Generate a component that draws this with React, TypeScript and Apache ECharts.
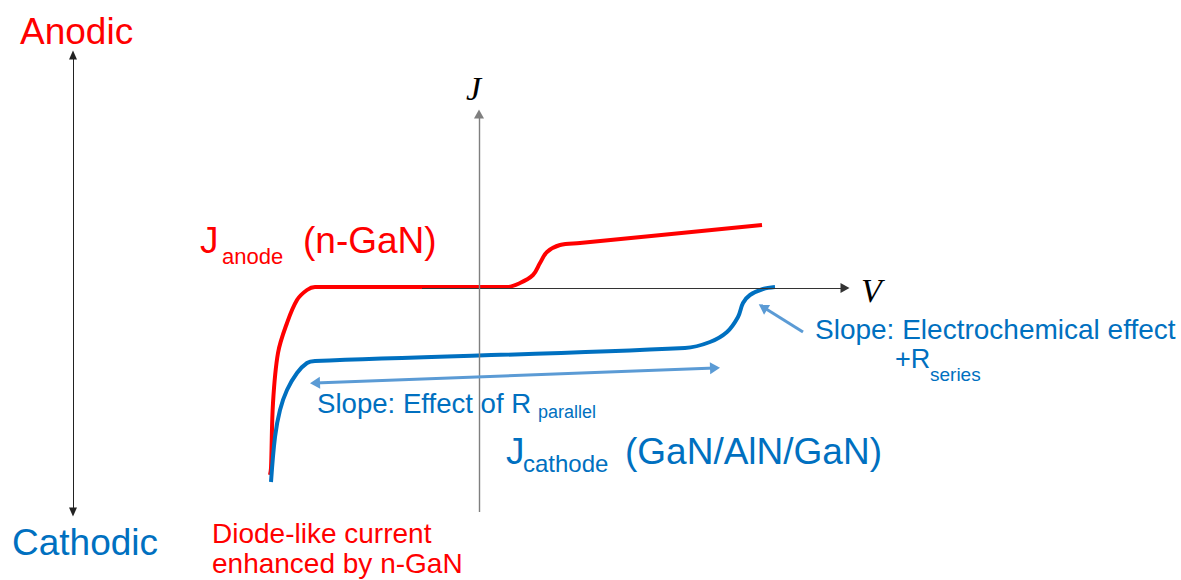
import React, { useEffect, useRef } from "react";
import * as echarts from "echarts";

// Schematic J–V curves (arbitrary units: V along x, J along y)
const anodeCurve: [number, number][] = [
  [-2.09, -1.87],
  [-2.08, -1.8],
  [-2.06, -1.15],
  [-2.01, -0.65],
  [-1.92, -0.35],
  [-1.82, -0.12],
  [-1.72, -0.02],
  [-1.64, 0.01],
  [0.28, 0.01],
  [0.41, 0.05],
  [0.54, 0.13],
  [0.61, 0.25],
  [0.68, 0.36],
  [0.81, 0.43],
  [1.01, 0.45],
  [2.83, 0.63],
];

const cathodeCurve: [number, number][] = [
  [-2.08, -1.94],
  [-2.04, -1.49],
  [-1.99, -1.22],
  [-1.92, -1.02],
  [-1.82, -0.85],
  [-1.72, -0.75],
  [-1.64, -0.73],
  [2.06, -0.6],
  [2.31, -0.54],
  [2.48, -0.44],
  [2.59, -0.29],
  [2.64, -0.15],
  [2.71, -0.07],
  [2.84, -0.01],
  [2.96, 0.01],
];

// Axis arrows and annotation arrows: [start, end] in the same V/J units
const vAxisLine: [number, number][] = [[-0.57, 0], [3.66, 0]];
const jAxisLine: [number, number][] = [[0, -2.24], [0, 1.74]];
const polarityLine: [number, number][] = [[-4.06, -2.24], [-4.06, 2.33]];
const parallelSlopeArrow: [number, number][] = [[-1.64, -0.95], [2.36, -0.8]];
const seriesSlopeArrow: [number, number][] = [[3.24, -0.44], [2.84, -0.19]];

const RED = "#ff0000";
const BLUE = "#0070c0";
const LIGHT_BLUE = "#5b9bd5";
const SANS = "'Liberation Sans', Arial, sans-serif";
const SERIF = "'Liberation Serif', 'Times New Roman', serif";

function arrowPair(
  pts: [number, number][],
  color: string,
  width: number,
  startSymbol: string,
  endSymbol: string,
  size: number[]
) {
  return [
    {
      coord: pts[0],
      symbol: startSymbol,
      symbolSize: size,
      lineStyle: { color, width, type: "solid" },
    },
    { coord: pts[1], symbol: endSymbol, symbolSize: size },
  ];
}

function txt(
  text: string,
  x: number,
  y: number,
  size: number,
  color: string,
  family = SANS,
  fontStyle = "normal"
) {
  return {
    type: "text",
    x,
    y,
    silent: true,
    style: {
      text,
      fill: color,
      font: `${fontStyle} ${size}px ${family}`,
      lineHeight: Math.round(size * 0.85),
      align: "left",
      verticalAlign: "middle",
    },
  };
}

export default function App() {
  const ref = useRef<HTMLDivElement>(null);

  useEffect(() => {
    if (!ref.current) return;
    const chart = echarts.init(ref.current, undefined, { renderer: "svg" });

    const option = {
      animation: false,
      backgroundColor: "#ffffff",
      grid: { left: 0, right: 0, top: 0, bottom: 0 },
      xAxis: { type: "value", min: -4.79, max: 7.02, show: false },
      yAxis: { type: "value", min: -2.92, max: 2.88, show: false },
      series: [
        {
          name: "axes",
          type: "line",
          data: [],
          z: 1,
          silent: true,
          markLine: {
            silent: true,
            animation: false,
            label: { show: false },
            emphasis: { disabled: true },
            data: [
              arrowPair(vAxisLine, "#333333", 1.2, "none", "triangle", [10, 9]),
              arrowPair(jAxisLine, "#7f7f7f", 1.4, "none", "triangle", [10, 9]),
              arrowPair(polarityLine, "#222222", 1, "triangle", "triangle", [8, 9]),
              arrowPair(parallelSlopeArrow, LIGHT_BLUE, 3, "triangle", "triangle", [12, 10]),
              arrowPair(seriesSlopeArrow, LIGHT_BLUE, 3, "none", "triangle", [12, 10]),
            ],
          },
        },
        {
          name: "J anode",
          type: "line",
          data: anodeCurve,
          showSymbol: false,
          smooth: 0.35,
          clip: false,
          z: 3,
          silent: true,
          lineStyle: { color: RED, width: 4 },
        },
        {
          name: "J cathode",
          type: "line",
          data: cathodeCurve,
          showSymbol: false,
          smooth: 0.35,
          clip: false,
          z: 4,
          silent: true,
          lineStyle: { color: BLUE, width: 4 },
        },
      ],
      graphic: [
        txt("Anodic", 20, 31, 37, RED),
        txt("Cathodic", 12, 542, 37, BLUE),
        txt("J", 466, 88, 34, "#000000", SERIF, "italic"),
        txt("V", 861, 290, 34, "#000000", SERIF, "italic"),
        txt("J", 200, 240, 37, RED),
        txt("anode", 222, 256, 22, RED),
        txt("(n-GaN)", 303, 240, 37, RED),
        txt("J", 506, 451, 37, BLUE),
        txt("cathode", 523, 463, 24, BLUE),
        txt("(GaN/AlN/GaN)", 625, 451, 37, BLUE),
        txt("Slope: Effect of R", 317, 403, 27.6, BLUE),
        txt("parallel", 538, 412, 18, BLUE),
        txt("Slope: Electrochemical effect", 815, 329, 28, BLUE),
        txt("+R", 895, 359, 27, BLUE),
        txt("series", 930, 374, 19, BLUE),
        txt("Diode-like current", 212, 533, 28, RED),
        txt("enhanced by n-GaN", 212, 563, 28, RED),
      ],
    };

    chart.setOption(option as any);
    return () => chart.dispose();
  }, []);

  return (
    <div
      ref={ref}
      style={{ position: "absolute", left: 0, top: 0, width: 1181, height: 580 }}
    />
  );
}
